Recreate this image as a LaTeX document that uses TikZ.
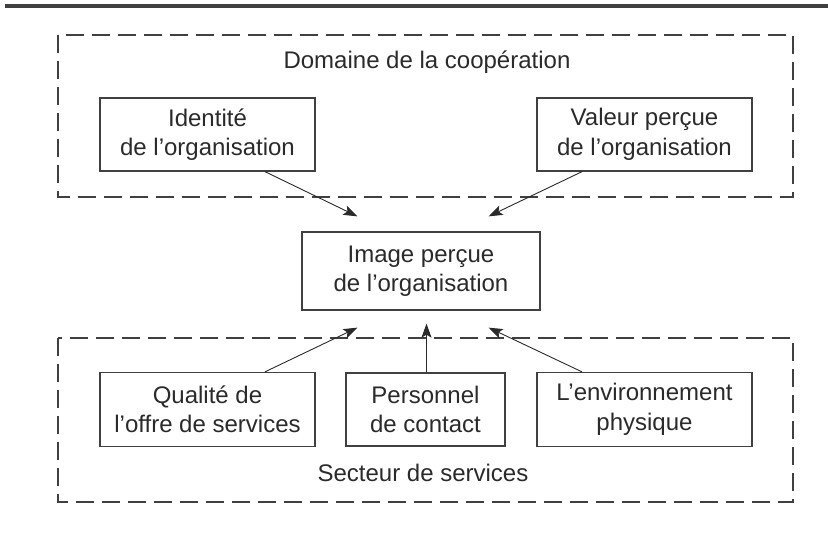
\documentclass[tikz,border=0pt]{standalone}
\usepackage{fontspec}
\setmainfont{Liberation Sans}
\usetikzlibrary{arrows.meta}
\definecolor{ink}{HTML}{2A2A2A}
\definecolor{rule}{HTML}{404040}
\begin{document}
\begin{tikzpicture}[x=1pt,y=-1pt,
  every node/.style={text=ink,font=\fontsize{24}{29.5}\selectfont},
  box/.style={draw=rule,line width=1.3pt,align=center,inner sep=0pt},
  zone/.style={draw=rule,line width=1.3pt,dash pattern=on 18pt off 8pt},
  arr/.style={draw=ink,line width=0.9pt,-{Stealth[length=14pt,width=10pt,inset=3pt]}}]
\useasboundingbox (0,0) rectangle (828,533);
% heading rule
\fill[rule] (5,4) rectangle (828,8);
% the two dashed areas
\draw[zone] (58,35) rectangle (793,197);
\draw[zone] (58,338) rectangle (793,502);
\node[anchor=base] (dom) at (427,68) {Domaine de la coopération};
\node[anchor=base] (sec) at (423,481) {Secteur de services};
% boxes
\node[box,minimum width=215pt,minimum height=73pt] (ident) at (207.5,134.5) {Identité\\de l’organisation};
\node[box,minimum width=215pt,minimum height=73pt] (valeur) at (644.5,134.5) {Valeur perçue\\de l’organisation};
\node[box,minimum width=238pt,minimum height=78pt] (image) at (421,271) {Image perçue\\de l’organisation};
\node[box,minimum width=215pt,minimum height=74pt] (qual) at (207.5,409.5) {Qualité de\\l’offre de services};
\node[box,minimum width=159pt,minimum height=73pt] (pers) at (425.5,409.5) {Personnel\\de contact};
\node[box,minimum width=215pt,minimum height=74pt] (env) at (644.5,409.5) {L’environnement\\physique};
% arrow tips around the central box
\coordinate (tA) at ([xshift=56pt,yshift=15pt]image.north west);
\coordinate (tB) at ([xshift=-52pt,yshift=15pt]image.north east);
\coordinate (tC) at ([xshift=56pt,yshift=-17pt]image.south west);
\coordinate (tD) at ([xshift=5.5pt,yshift=-13pt]image.south);
\coordinate (tE) at ([xshift=-52pt,yshift=-17pt]image.south east);
% connectors
\draw[arr] ([xshift=57.5pt]ident.south) -- (tA);
\draw[arr] ([xshift=-62.5pt]valeur.south) -- (tB);
\draw[arr] ([xshift=57.5pt]qual.north) -- (tC);
\draw[arr] ([xshift=1pt]pers.north) -- (tD);
\draw[arr] ([xshift=-62.5pt]env.north) -- (tE);
\end{tikzpicture}
\end{document}
